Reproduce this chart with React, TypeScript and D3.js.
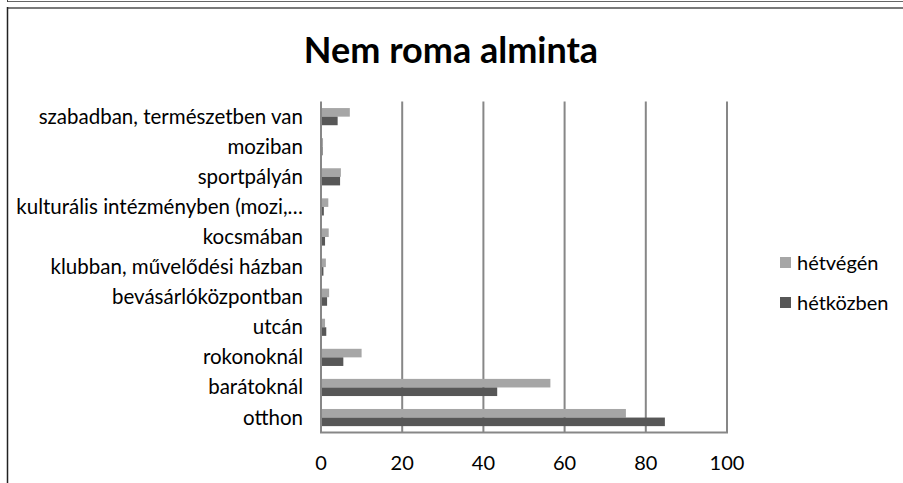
import React from "react";
import * as d3 from "d3";

const categories = [
  "szabadban, természetben van",
  "moziban",
  "sportpályán",
  "kulturális intézményben (mozi,…",
  "kocsmában",
  "klubban, művelődési házban",
  "bevásárlóközpontban",
  "utcán",
  "rokonoknál",
  "barátoknál",
  "otthon",
];
const hetvegen = [7.1, 0.5, 4.9, 1.8, 1.9, 1.2, 2.0, 1.0, 10.0, 56.5, 75.1];
const hetkozben = [4.1, 0.4, 4.7, 0.7, 1.0, 0.6, 1.5, 1.3, 5.5, 43.4, 84.7];
const seriesNames = ["hétvégén", "hétközben"];
const seriesColors = ["#a6a6a6", "#575757"];
const xTicks = [0, 20, 40, 60, 80, 100];

const W = 903;
const H = 483;
const FONT = "Lato, 'Open Sans', sans-serif";

export default function App() {
  const x = d3.scaleLinear().domain([0, 100]).range([321, 727]);
  const y = d3.scaleBand<string>().domain(categories).range([101.6, 432.6]).paddingInner(0.43).paddingOuter(0.215);
  const sub = d3.scaleBand<string>().domain(seriesNames).range([0, y.bandwidth()]);
  const data = [hetvegen, hetkozben];

  return (
    <svg width={W} height={H} style={{ position: "absolute", left: 0, top: 0, background: "#fff" }} fontFamily={FONT}>
      <rect x={0} y={0} width={W} height={H} fill="#fff" />
      {/* frame */}
      <line x1={7} x2={W} y1={1.5} y2={1.5} stroke="#666" strokeWidth={1} />
      <line x1={7.5} x2={7.5} y1={0} y2={2} stroke="#444" strokeWidth={1} />
      <line x1={7} x2={W} y1={8} y2={8} stroke="#7a7a7a" strokeWidth={2} />
      <line x1={7.5} x2={7.5} y1={7} y2={H} stroke="#222" strokeWidth={1.5} />

      <text x={451} y={63} textAnchor="middle" fontSize={36} fontWeight="bold" fill="#000">
        Nem roma alminta
      </text>

      {/* gridlines */}
      {xTicks.slice(1).map((t) => (
        <line key={t} x1={x(t)} x2={x(t)} y1={101.6} y2={432.6} stroke="#878787" strokeWidth={2} />
      ))}

      {/* bars */}
      {categories.map((c, i) => (
        <g key={c}>
          {data.map((s, j) => (
            <rect
              key={j}
              x={x(0)}
              y={(y(c) as number) + (sub(seriesNames[j]) as number)}
              width={x(s[i]) - x(0)}
              height={sub.bandwidth()}
              fill={seriesColors[j]}
            />
          ))}
        </g>
      ))}

      {/* axes */}
      <line x1={x(0)} x2={x(0)} y1={101.6} y2={433} stroke="#878787" strokeWidth={2} />
      <line x1={x(0) - 1} x2={x(100) + 1} y1={432.6} y2={432.6} stroke="#878787" strokeWidth={2} />

      {xTicks.map((t) => (
        <text key={t} x={x(t)} y={470} textAnchor="middle" fontSize={20} fill="#000">
          {t}
        </text>
      ))}

      {categories.map((c) => (
        <text
          key={c}
          x={303}
          y={(y(c) as number) + y.bandwidth() / 2 + 7}
          textAnchor="end"
          fontSize={20.5}
          fill="#000"
        >
          {c}
        </text>
      ))}

      {/* legend */}
      {seriesNames.map((n, j) => (
        <g key={n}>
          <rect x={780} y={257 + j * 40} width={11} height={11} fill={seriesColors[j]} />
          <text x={797} y={269.5 + j * 40} fontSize={20} fill="#000">
            {n}
          </text>
        </g>
      ))}
    </svg>
  );
}
